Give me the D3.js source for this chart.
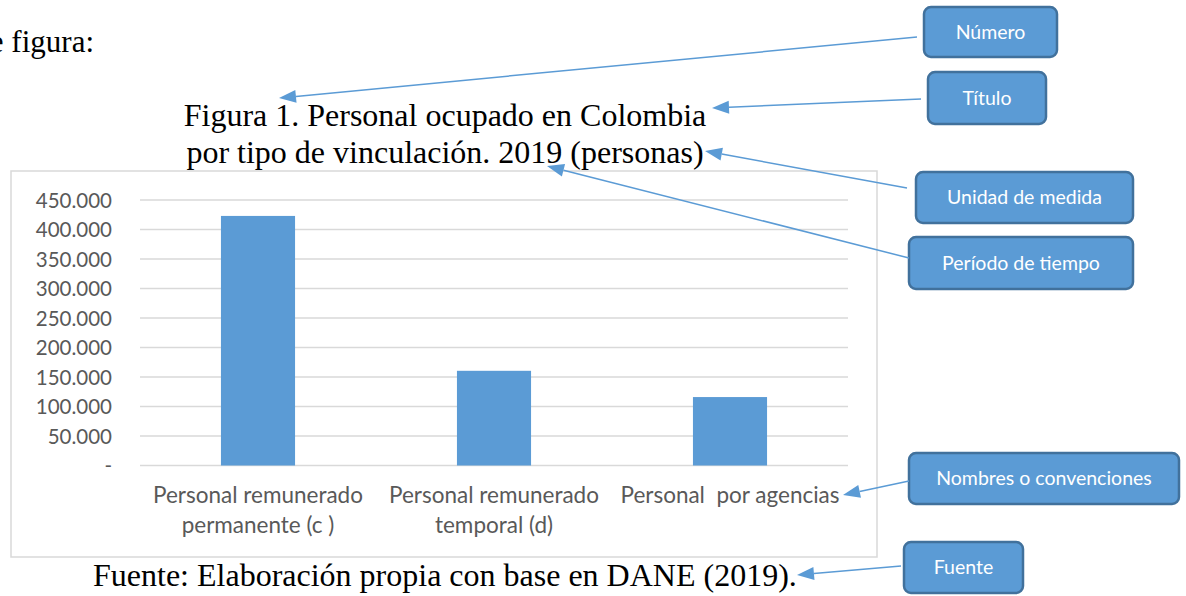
<!DOCTYPE html>
<html><head><meta charset="utf-8">
<script src="https://cdn.jsdelivr.net/npm/d3@7"></script>
<style>
html,body{margin:0;padding:0;background:#fff;overflow:hidden}
svg{display:block}
text{white-space:pre}
</style></head>
<body>
<svg id="c" width="1186" height="596"></svg>
<script>
// ---- data ----
const categories = ["Personal remunerado\npermanente (c )", "Personal remunerado\ntemporal (d)", "Personal  por agencias"];
const values = [423000, 160500, 116000];
const yTicks = [0, 50000, 100000, 150000, 200000, 250000, 300000, 350000, 400000, 450000];
const titleLines = ["Figura 1. Personal ocupado en Colombia", "por tipo de vinculación. 2019 (personas)"];
const sourceText = "Fuente: Elaboración propia con base en DANE (2019).";
const introText = "de figura:";
const calloutLabels = ["Número", "Título", "Unidad de medida", "Período de tiempo", "Nombres o convenciones", "Fuente"];

// ---- drawing ----
const svg = d3.select("#c");
const serif = "'Liberation Serif','Times New Roman',serif";
const sans = "Lato,'Open Sans',sans-serif";
const blue = "#5b9bd5";

svg.append("text").attr("x", 94).attr("y", 52).attr("text-anchor", "end")
  .attr("font-family", serif).attr("font-size", 31).attr("fill", "#000").text(introText);

// chart frame
svg.append("rect").attr("x", 11).attr("y", 171).attr("width", 866).attr("height", 386)
  .attr("fill", "#fff").attr("stroke", "#d9d9d9").attr("stroke-width", 1.5);

const plot = {left: 140, right: 848, top: 200, bottom: 465.5};
const x = d3.scaleBand().domain(categories).range([plot.left, plot.right]).paddingInner(0).paddingOuter(0);
const y = d3.scaleLinear().domain([0, 450000]).range([plot.bottom, plot.top]);
const loc = d3.formatLocale({decimal: ",", thousands: ".", grouping: [3], currency: ["$", ""]});
const fmt = v => v === 0 ? "-" : loc.format(",")(v);

// y axis labels
const yAxis = d3.axisLeft(y).tickValues(yTicks).tickFormat(fmt).tickSize(0).tickPadding(0);
const gy = svg.append("g").attr("transform", `translate(112,0)`).call(yAxis);
gy.select(".domain").remove();
gy.selectAll("text").attr("font-family", sans).attr("font-size", 20.5).attr("fill", "#595959").attr("dy", "0.36em");

// gridlines
svg.append("g").selectAll("line").data(yTicks).join("line")
  .attr("x1", plot.left).attr("x2", plot.right)
  .attr("y1", d => y(d)).attr("y2", d => y(d))
  .attr("stroke", "#d9d9d9").attr("stroke-width", 1.5);

// bars
const barW = x.bandwidth() * 0.314;
svg.append("g").selectAll("rect").data(values).join("rect")
  .attr("x", (d, i) => x(categories[i]) + x.bandwidth() / 2 - barW / 2)
  .attr("width", barW)
  .attr("y", d => y(d))
  .attr("height", d => y(0) - y(d))
  .attr("fill", blue);

// category labels
const xl = svg.append("g");
categories.forEach(c => {
  const t = xl.append("text").attr("x", x(c) + x.bandwidth() / 2).attr("y", 503)
    .attr("text-anchor", "middle").attr("font-family", sans).attr("font-size", 22.5).attr("fill", "#595959");
  c.split("\n").forEach((ln, j) => {
    t.append("tspan").attr("x", x(c) + x.bandwidth() / 2).attr("dy", j ? 29.5 : 0).text(ln);
  });
});

// title
titleLines.forEach((t, i) => {
  svg.append("text").attr("x", 445).attr("y", 126 + i * 37).attr("text-anchor", "middle")
    .attr("font-family", serif).attr("font-size", 32).attr("fill", "#000").text(t);
});

// source
svg.append("text").attr("x", 93).attr("y", 586).attr("font-family", serif).attr("font-size", 32)
  .attr("fill", "#000").text(sourceText);

// callouts: box [x0,y0,x1,y1], line start, arrow tip
const callLayout = [
  {b: [924, 7, 1057, 57], s: [917, 37], t: [279, 98]},
  {b: [928, 72, 1046, 124], s: [921, 99], t: [712, 108]},
  {b: [916, 172, 1133, 223], s: [907, 188], t: [705, 151]},
  {b: [909, 237, 1133, 289], s: [909, 258], t: [547, 166]},
  {b: [909, 453, 1179, 504], s: [909, 481], t: [843, 495]},
  {b: [904, 542, 1023, 593], s: [901, 566], t: [797, 575]}
];
const ann = svg.append("g");
callLayout.forEach((c, i) => {
  const [x0, y0, x1, y1] = c.b;
  ann.append("rect").attr("x", x0).attr("y", y0).attr("width", x1 - x0).attr("height", y1 - y0)
    .attr("rx", 7).attr("fill", blue).attr("stroke", "#41719c").attr("stroke-width", 2.5);
  ann.append("text").attr("x", (x0 + x1) / 2).attr("y", (y0 + y1) / 2).attr("dy", "0.35em")
    .attr("text-anchor", "middle").attr("font-family", sans).attr("font-size", 19.5).attr("fill", "#fff")
    .text(calloutLabels[i]);
  // arrow
  const dx = c.t[0] - c.s[0], dy = c.t[1] - c.s[1];
  const L = Math.hypot(dx, dy), ux = dx / L, uy = dy / L;
  const hl = 17, hw = 6.5;
  const bx = c.t[0] - ux * hl, by = c.t[1] - uy * hl;
  ann.append("line").attr("x1", c.s[0]).attr("y1", c.s[1]).attr("x2", bx).attr("y2", by)
    .attr("stroke", blue).attr("stroke-width", 1.5);
  ann.append("path").attr("d", d3.line()([[c.t[0], c.t[1]], [bx - uy * hw, by + ux * hw], [bx + uy * hw, by - ux * hw]]) + "Z")
    .attr("fill", blue);
});
</script>
</body></html>
